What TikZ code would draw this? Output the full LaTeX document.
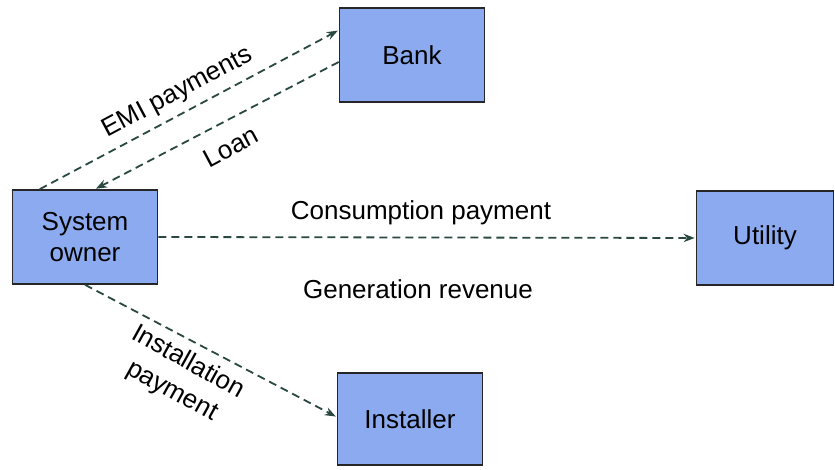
\documentclass[tikz,border=0pt]{standalone}
\usepackage{fontspec}
\setmainfont{Liberation Sans}
\usetikzlibrary{arrows.meta}
\definecolor{boxblue}{RGB}{139,170,240}
\definecolor{flowgreen}{RGB}{42,72,66}
\tikzset{>=Stealth}

\begin{document}
\begin{tikzpicture}[x=1pt,y=1pt,
    party/.style={draw=black!85, line width=1.6pt, fill=boxblue, minimum width=145pt, minimum height=94pt, align=center, font=\fontsize{26}{31}\selectfont},
    flow/.style={->, draw=flowgreen, line width=1.8pt, dash pattern=on 8pt off 5pt, shorten >=1pt},
    lbl/.style={font=\fontsize{26}{30}\selectfont, align=center}]
            \useasboundingbox (0,0) rectangle (835,470);
            \node[party] (bank) at (412,415){Bank};
            \node[party] (owner) at (85,233){System\\owner};
            \node[party, minimum width=137pt] (utility) at (765,232){Utility};
            \node[party, minimum height=92pt] (installer) at (410,51){Installer};
            \draw[flow] ([xshift=28pt]owner.north west) -- ([yshift=-23pt]bank.north west);
            \draw[flow] ([yshift=-7pt]bank.west) -- ([xshift=10pt]owner.north);
            \draw[flow] (owner.east) -- (utility.west);
            \draw[flow] (owner.south) -- ([yshift=2pt]installer.west);
            \node[lbl, rotate=28] (emi) at (178,377){EMI payments};
            \node[lbl, rotate=28] (loan) at (231,323){Loan};
            \node[lbl] (cons) at (421,257){Consumption payment};
            \node[lbl] (gen) at (418,181){Generation revenue};
            \node[lbl, rotate=-29, font=\fontsize{26}{33}\selectfont] (inst) at (180,93){Installation\\payment};
            \end{tikzpicture}
\end{document}
